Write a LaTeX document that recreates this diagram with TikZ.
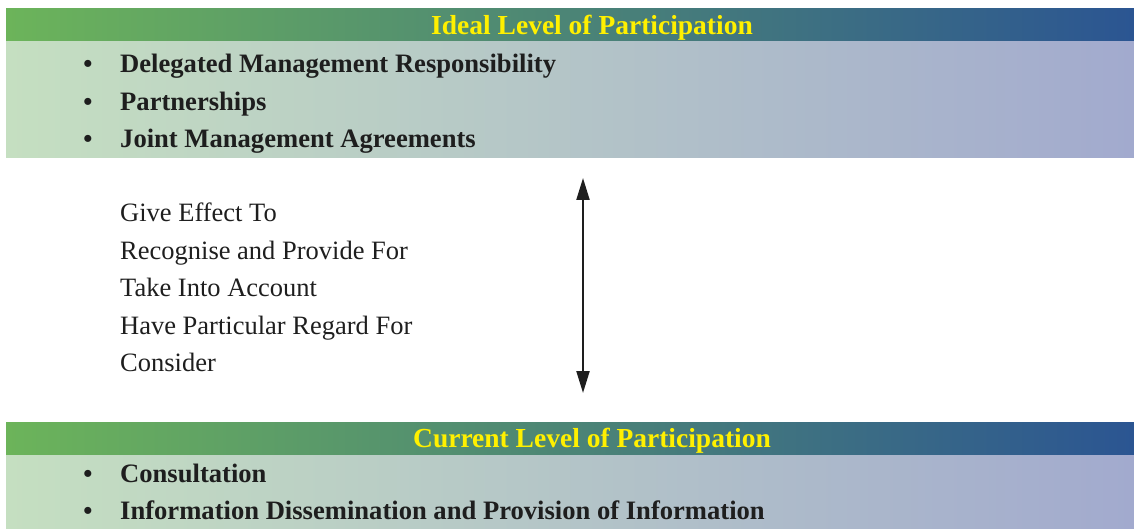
\documentclass[tikz,border=0pt]{standalone}
\usepackage{fontspec}
\setmainfont{Liberation Serif}
\usetikzlibrary{arrows.meta}
\definecolor{hdL}{RGB}{108,180,90}
\definecolor{hdR}{RGB}{43,85,146}
\definecolor{ltL}{RGB}{197,223,193}
\definecolor{ltR}{RGB}{162,170,206}
\definecolor{ttl}{RGB}{255,240,0}
\definecolor{ink}{RGB}{30,30,30}
\tikzset{
  hdband/.style={left color=hdL,right color=hdR,draw=none},
  ltband/.style={left color=ltL,right color=ltR,draw=none},
  ttltext/.style={font=\fontsize{27.5}{30}\selectfont\bfseries,text=ttl,inner sep=0pt,anchor=base},
  itemtext/.style={font=\fontsize{26.6}{30}\selectfont\bfseries,text=ink,inner sep=0pt,anchor=base west},
  bul/.style={font=\fontsize{26}{30}\selectfont\bfseries,text=ink,inner sep=0pt,anchor=base},
  midtext/.style={font=\fontsize{26.5}{30}\selectfont,text=ink,inner sep=0pt,anchor=base west},
  dblarrow/.style={{Triangle[width=13pt,length=22pt]}-{Triangle[width=13pt,length=22pt]},line width=2.2pt,draw=ink}
}
\begin{document}
\begin{tikzpicture}[x=1pt,y=-1pt]
\useasboundingbox (0,0) rectangle (1134,529);
% top block
\shade[hdband] (6,9) rectangle (1134,42);
\shade[ltband] (6,42) rectangle (1134,158);
\node[ttltext] (t1) at (592,35) {Ideal Level of Participation};
\node[bul] (b1) at (88,73) {\textbullet};
\node[itemtext] (i1) at (120,73) {Delegated Management Responsibility};
\node[bul] (b2) at (88,110.5) {\textbullet};
\node[itemtext] (i2) at (120,110.5) {Partnerships};
\node[bul] (b3) at (88,148) {\textbullet};
\node[itemtext] (i3) at (120,148) {Joint Management Agreements};
% middle
\node[midtext] (m1) at (120,222) {Give Effect To};
\node[midtext] (m2) at (120,259) {Recognise and Provide For};
\node[midtext] (m3) at (120,296.5) {Take Into Account};
\node[midtext] (m4) at (120,334) {Have Particular Regard For};
\node[midtext] (m5) at (120,371) {Consider};
\coordinate (atop) at (583,178);
\coordinate (abot) at (583,393);
\draw[dblarrow] (atop) -- (abot);
% bottom block
\shade[hdband] (6,422) rectangle (1134,455);
\shade[ltband] (6,455) rectangle (1134,529);
\node[ttltext] (t2) at (592,447) {Current Level of Participation};
\node[bul] (b4) at (88,482) {\textbullet};
\node[itemtext] (i4) at (120,482) {Consultation};
\node[bul] (b5) at (88,519) {\textbullet};
\node[itemtext] (i5) at (120,519) {Information Dissemination and Provision of Information};
\end{tikzpicture}
\end{document}
